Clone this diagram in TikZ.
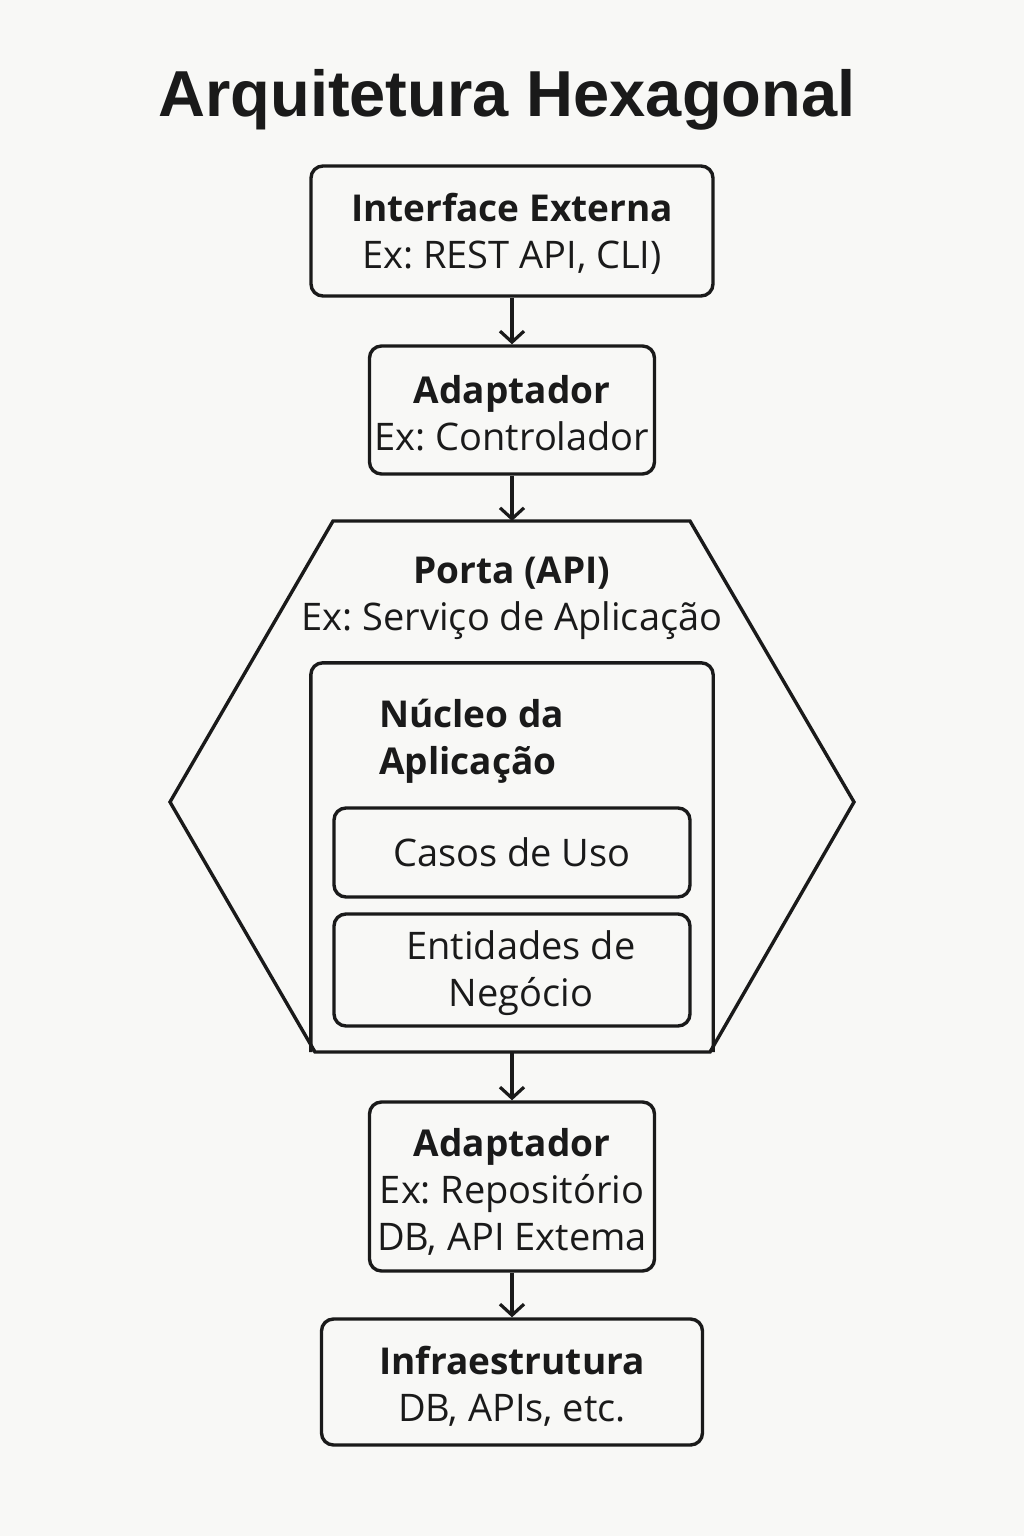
\documentclass[tikz,border=0pt]{standalone}
\usepackage{fontspec}
\setmainfont{Open Sans}
\newfontfamily\titlefont{Liberation Sans}
\usetikzlibrary{arrows.meta}
\definecolor{bg}{HTML}{F8F8F6}
\definecolor{ink}{HTML}{1A1A1A}
\frenchspacing
\tikzset{
  box/.style={draw=ink, rounded corners=12pt, line width=3.4pt, align=center, inner sep=0pt, text=ink,
    font=\fontsize{38}{47}\selectfont},
  txt/.style={align=center, inner sep=0pt, text=ink, font=\fontsize{38}{47}\selectfont},
  conn/.style={draw=ink, line width=3.2pt, -{Straight Barb[length=11pt,width=24pt,line width=3.2pt]}},
}
\newcommand{\bt}[1]{{\fontsize{37}{47}\selectfont\bfseries #1}}
\begin{document}
\begin{tikzpicture}[x=1pt,y=-1pt]
\fill[bg] (0,0) rectangle (1024,1536);
\useasboundingbox (0,0) rectangle (1024,1536);

\node[anchor=base, text=ink, font=\titlefont\fontsize{65}{70}\selectfont\bfseries] (title) at (507,117) {Arquitetura Hexagonal};

\node[box, minimum width=402pt, minimum height=130pt] (ext) at (512,231) {};
\node[txt] (exttxt) at (512,234) {\bt{Interface Externa}\\ Ex: REST API, CLI)};
\node[box, minimum width=285pt, minimum height=128pt] (adin) at (512,410) {};
\node[txt] (adintxt) at (512,413) {\bt{Adaptador}\\ Ex: Controlador};

% hexagon (port)
\coordinate (hexT) at (512,521);
\coordinate (hexB) at (512,1052);
\draw[ink, line width=3.4pt, line join=miter] (333,521) -- (690,521) -- (854,802) -- (710,1052) -- (315,1052) -- (170,802) -- cycle;
\node[txt] (porta) at (512,598) {\bt{Porta (API)}\\ Ex: Serviço de Aplicação};

% core
\node[minimum width=402pt, minimum height=389pt, inner sep=0pt] (core) at (512,857.5) {};
\draw[ink, line width=3.4pt, rounded corners=12pt] (core.south west) -- (core.north west) -- (core.north east) -- (core.south east);
\node[txt, align=left, anchor=west] (coretitle) at (379,741) {\bt{Núcleo da}\\ \bt{Aplicação}};

\node[box, minimum width=356pt, minimum height=89pt] (casos) at (512,852.5) {Casos de Uso};
\node[box, minimum width=356pt, minimum height=112pt] (ent) at (512,970) {};
\node[txt] (enttxt) at (521,973) {Entidades de\\ Negócio};

\node[box, minimum width=285pt, minimum height=169pt] (adout) at (512,1186.5) {};
\node[txt] (adouttxt) at (512,1192) {\bt{Adaptador}\\ Ex: Repositório\\ DB, API Extema};
\node[box, minimum width=381pt, minimum height=126pt] (infra) at (512,1382) {};
\node[txt] (infratxt) at (512,1386) {\bt{Infraestrutura}\\ DB, APIs, etc.};

\draw[conn] (ext) -- (adin);
\draw[conn] (adin) -- (hexT);
\draw[conn] (hexB) -- (adout);
\draw[conn] (adout) -- (infra);
\end{tikzpicture}
\end{document}
